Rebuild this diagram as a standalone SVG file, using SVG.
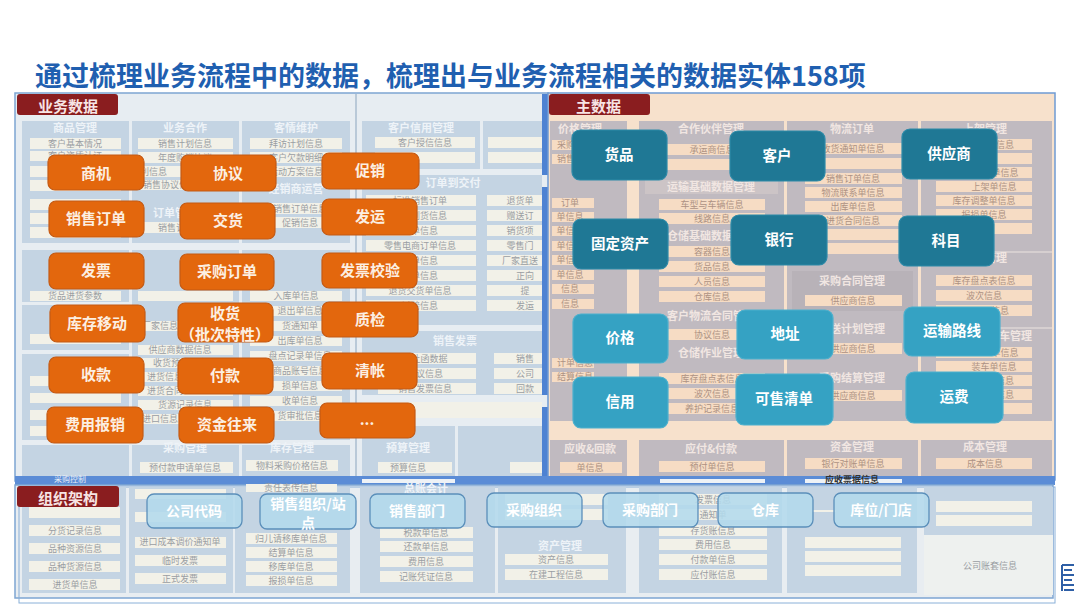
<svg xmlns="http://www.w3.org/2000/svg" width="1080" height="607" viewBox="0 0 1080 607">
<style>
.cjk{font-family:"Noto Sans CJK SC","Noto Sans",sans-serif}
.lp{fill:#c4d4e3}
.lr{fill:#f2f1e8}
.lt{font-family:"Noto Sans CJK SC",sans-serif;font-size:9px;fill:#9a9ea3;text-anchor:middle}
.lh{font-family:"Noto Sans CJK SC",sans-serif;font-size:11px;fill:#eef3f8;text-anchor:middle;font-weight:bold}
.rp{fill:#c0bac0}
.rr{fill:#f6dcc4}
.rt{font-family:"Noto Sans CJK SC",sans-serif;font-size:9px;fill:#ad9283;text-anchor:middle}
.rh{font-family:"Noto Sans CJK SC",sans-serif;font-size:11px;fill:#f1e6e2;text-anchor:middle;font-weight:bold}
.org rect{fill:#e3670d;stroke:#c45a14;stroke-width:1.2}
.org text{font-family:"Noto Sans CJK SC",sans-serif;font-size:15px;font-weight:bold;fill:#fcefe2;text-anchor:middle}
.tdk rect{fill:#1f7895;stroke:#2d8aa8;stroke-width:1.2}
.tlt rect{fill:#35a2c3;stroke:#4cb0cd;stroke-width:1.2}
.tdk text,.tlt text{font-family:"Noto Sans CJK SC",sans-serif;font-size:14.5px;font-weight:bold;fill:#ffffff;text-anchor:middle}
.lb rect{fill:#b3daec;fill-opacity:0.88;stroke:#5b8fba;stroke-width:1.3}
.lb text{font-family:"Noto Sans CJK SC",sans-serif;font-size:14px;font-weight:bold;fill:#ffffff;text-anchor:middle}
.sec text{font-family:"Noto Sans CJK SC",sans-serif;font-size:15px;font-weight:bold;fill:#f7e4e4}
</style>

<!-- title -->
<text x="35" y="86" class="cjk" font-size="27" font-weight="bold" fill="#1f5fb0">通过梳理业务流程中的数据，梳理出与业务流程相关的数据实体158项</text>

<!-- ===== 业务数据 background ===== -->
<g id="bg-business">
<rect x="15" y="93" width="533" height="388" fill="#e7edf2" stroke="#7ea5d2" stroke-width="1.5"/>
<line x1="356" y1="94" x2="356" y2="480" stroke="#b9c9d8" stroke-width="2"/>
<!-- column 1 -->
<rect class="lp" x="22" y="121" width="107" height="122"/>
<text class="lh" x="75" y="132">商品管理</text>
<rect class="lr" x="30" y="138" width="91" height="11"/><text class="lt" x="75" y="147">客户基本情况</text>
<rect class="lr" x="30" y="151" width="91" height="10"/><text class="lt" x="75" y="159" font-size="8">客户资质认证</text>
<rect class="lr" x="30" y="166" width="91" height="11"/>
<rect class="lr" x="30" y="180" width="91" height="11"/>
<rect class="lr" x="30" y="199" width="91" height="11"/>
<rect class="lr" x="30" y="213" width="91" height="11"/>
<rect class="lr" x="30" y="227" width="91" height="11"/>
<rect class="lp" x="22" y="250" width="107" height="52"/>
<rect class="lr" x="30" y="291" width="91" height="10"/><text class="lt" x="75" y="299">货品进货参数</text>
<rect class="lp" x="22" y="305" width="107" height="45"/>
<rect class="lr" x="30" y="334" width="91" height="10"/>
<rect class="lp" x="22" y="354" width="107" height="86"/>
<rect class="lr" x="30" y="376" width="91" height="10"/>
<rect class="lr" x="30" y="393" width="91" height="10"/>
<rect class="lr" x="30" y="410" width="91" height="10"/>
<rect class="lr" x="30" y="426" width="91" height="10"/>
<rect class="lp" x="22" y="445" width="107" height="36"/>
<!-- column 2 -->
<rect class="lp" x="132" y="121" width="107" height="122"/>
<text class="lh" x="185" y="132">业务合作</text>
<rect class="lr" x="138" y="138" width="95" height="11"/><text class="lt" x="185" y="147">销售计划信息</text>
<rect class="lr" x="138" y="152" width="95" height="11"/><text class="lt" x="185" y="161">年度购销协议</text>
<rect class="lr" x="138" y="166" width="95" height="11"/><text class="lt" x="140" y="175" font-size="8" text-anchor="start">销售让利信息</text>
<rect class="lr" x="138" y="180" width="95" height="10"/><text class="lt" x="170" y="188" font-size="7">销售协议信息</text>
<text class="lh" x="175" y="217">订单管理</text>
<rect class="lr" x="138" y="222" width="95" height="11"/><text class="lt" x="185" y="231">销售订单信息</text>
<rect class="lp" x="132" y="250" width="107" height="190"/>
<rect class="lr" x="138" y="291" width="95" height="10"/>
<rect class="lr" x="138" y="321" width="95" height="10"/><text class="lt" x="160" y="329">厂家信息</text>
<rect class="lr" x="138" y="345" width="95" height="10"/><text class="lt" x="180" y="353" font-size="8">供应商数据信息</text>
<rect class="lr" x="138" y="358" width="95" height="10"/><text class="lt" x="180" y="366">收货预约信息</text>
<rect class="lr" x="138" y="372" width="95" height="10"/><text class="lt" x="165" y="380">进货信息</text>
<rect class="lr" x="138" y="386" width="95" height="10"/><text class="lt" x="165" y="394">进货合同</text>
<rect class="lr" x="138" y="400" width="95" height="10"/><text class="lt" x="185" y="408">货源记录信息</text>
<rect class="lr" x="138" y="414" width="95" height="10"/><text class="lt" x="160" y="422">进口信息</text>
<rect class="lp" x="132" y="445" width="107" height="36"/>
<text class="lh" x="185" y="452">采购管理</text>
<rect class="lr" x="140" y="462" width="93" height="11"/><text class="lt" x="185" y="471">预付款申请单信息</text>
<!-- column 3 -->
<rect class="lp" x="242" y="121" width="108" height="122"/>
<text class="lh" x="296" y="132">客情维护</text>
<rect class="lr" x="250" y="138" width="92" height="11"/><text class="lt" x="296" y="147">拜访计划信息</text>
<rect class="lr" x="250" y="152" width="92" height="11"/><text class="lt" x="296" y="161">客户欠款明细</text>
<rect class="lr" x="250" y="166" width="92" height="11"/><text class="lt" x="296" y="175">活动方案信息</text>
<text class="lh" x="296" y="193">经销商运营</text>
<rect class="lr" x="250" y="203" width="92" height="11"/><text class="lt" x="300" y="212">销售订单信息</text>
<rect class="lr" x="250" y="217" width="92" height="11"/><text class="lt" x="300" y="226">促销信息</text>
<rect class="lp" x="242" y="250" width="108" height="190"/>
<rect class="lr" x="250" y="291" width="92" height="10"/><text class="lt" x="296" y="299">入库单信息</text>
<rect class="lr" x="250" y="306" width="92" height="10"/><text class="lt" x="300" y="314">退出单信息</text>
<rect class="lr" x="250" y="321" width="92" height="10"/><text class="lt" x="300" y="329">货通知单</text>
<rect class="lr" x="250" y="336" width="92" height="10"/><text class="lt" x="300" y="344">出库单信息</text>
<rect class="lr" x="250" y="351" width="92" height="10"/><text class="lt" x="300" y="359">盘点记录单信息</text>
<rect class="lr" x="250" y="366" width="92" height="10"/><text class="lt" x="300" y="374">商品账号信息</text>
<rect class="lr" x="250" y="381" width="92" height="10"/><text class="lt" x="300" y="389">损单信息</text>
<rect class="lr" x="250" y="396" width="92" height="10"/><text class="lt" x="300" y="404">收单信息</text>
<rect class="lr" x="250" y="411" width="92" height="10"/><text class="lt" x="300" y="419">货审批信息</text>
<rect class="lp" x="242" y="445" width="108" height="36"/>
<text class="lh" x="292" y="452">库存管理</text>
<rect class="lr" x="246" y="460" width="92" height="11"/><text class="lt" x="292" y="469">物料采购价格信息</text>
<!-- area B -->
<rect class="lp" x="362" y="121" width="118" height="48"/>
<text class="lh" x="421" y="132">客户信用管理</text>
<rect class="lr" x="375" y="137" width="100" height="11"/><text class="lt" x="425" y="146">客户授信信息</text>
<rect class="lr" x="375" y="152" width="100" height="11"/>
<rect class="lp" x="483" y="121" width="60" height="48"/>
<rect class="lr" x="488" y="137" width="55" height="11"/>
<rect class="lr" x="488" y="152" width="55" height="11"/>
<rect class="lp" x="362" y="175" width="181" height="150"/>
<text class="lh" x="453" y="187">订单到交付</text>
<rect class="lr" x="366" y="195" width="110" height="11"/><text class="lt" x="420" y="204">标准销售订单</text>
<rect class="lr" x="366" y="210" width="110" height="11"/><text class="lt" x="420" y="219">采购到货信息</text>
<rect class="lr" x="366" y="225" width="110" height="11"/><text class="lt" x="420" y="234">订单信息</text>
<rect class="lr" x="366" y="240" width="110" height="11"/><text class="lt" x="420" y="249">零售电商订单信息</text>
<rect class="lr" x="366" y="255" width="110" height="11"/><text class="lt" x="420" y="264">订单信息</text>
<rect class="lr" x="366" y="270" width="110" height="11"/><text class="lt" x="420" y="279">订单信息</text>
<rect class="lr" x="366" y="285" width="110" height="11"/><text class="lt" x="420" y="294">退货交货单信息</text>
<rect class="lr" x="366" y="300" width="110" height="11"/><text class="lt" x="420" y="309">过磅信息</text>
<rect class="lr" x="487" y="195" width="56" height="11"/><text class="lt" x="520" y="204">退货单</text>
<rect class="lr" x="487" y="210" width="56" height="11"/><text class="lt" x="520" y="219">赠送订</text>
<rect class="lr" x="487" y="225" width="56" height="11"/><text class="lt" x="520" y="234">销货项</text>
<rect class="lr" x="487" y="240" width="56" height="11"/><text class="lt" x="520" y="249">零售门</text>
<rect class="lr" x="487" y="255" width="56" height="11"/><text class="lt" x="520" y="264">厂家直送</text>
<rect class="lr" x="487" y="270" width="56" height="11"/><text class="lt" x="525" y="279">正向</text>
<rect class="lr" x="487" y="285" width="56" height="11"/><text class="lt" x="525" y="294">提</text>
<rect class="lr" x="487" y="300" width="56" height="11"/><text class="lt" x="525" y="309">发运</text>
<rect class="lp" x="362" y="331" width="181" height="64"/>
<text class="lh" x="455" y="345">销售发票</text>
<rect class="lr" x="378" y="353" width="98" height="11"/><text class="lt" x="425" y="362">折让函数据</text>
<rect class="lr" x="378" y="368" width="98" height="11"/><text class="lt" x="425" y="377">协议信息</text>
<rect class="lr" x="378" y="383" width="98" height="11"/><text class="lt" x="425" y="392">销售发票信息</text>
<rect class="lr" x="494" y="353" width="49" height="11"/><text class="lt" x="525" y="362">销售</text>
<rect class="lr" x="494" y="368" width="49" height="11"/><text class="lt" x="525" y="377">公司</text>
<rect class="lr" x="494" y="383" width="49" height="11"/><text class="lt" x="525" y="392">回款</text>
<rect class="lr" x="362" y="402" width="181" height="16"/>
<rect class="lp" x="362" y="426" width="93" height="55"/>
<text class="lh" x="408" y="452">预算管理</text>
<rect class="lr" x="378" y="462" width="74" height="11"/><text class="lt" x="408" y="471">预算信息</text>
<rect class="lp" x="458" y="426" width="85" height="55"/>
<rect class="lr" x="510" y="462" width="33" height="11"/>
<!-- blue strip -->
<rect x="542" y="94" width="6" height="386" fill="#4e82d2"/>
<rect x="542" y="175" width="6" height="12" fill="#e7edf2"/>
<rect x="542" y="395" width="6" height="12" fill="#e7edf2"/>
</g>

<!-- ===== 主数据 background ===== -->
<g id="bg-master">
<rect x="548" y="93" width="507" height="387" fill="#f7e1cc" stroke="#6f9bd3" stroke-width="1.5"/>
<!-- P1 -->
<rect class="rp" x="550" y="121" width="77" height="300"/>
<text class="rh" x="580" y="133">价格管理</text>
<rect class="rr" x="552" y="140" width="42" height="10"/><text class="rt" x="575" y="148">采购价格</text>
<rect class="rr" x="552" y="154" width="42" height="10"/><text class="rt" x="575" y="162">销售价格</text>
<rect class="rr" x="552" y="198" width="42" height="10"/><text class="rt" x="570" y="206">订单</text>
<rect class="rr" x="552" y="212" width="42" height="10"/><text class="rt" x="570" y="220">单信息</text>
<rect class="rr" x="552" y="226" width="42" height="10"/><text class="rt" x="570" y="234">单信息</text>
<rect class="rr" x="552" y="241" width="42" height="10"/><text class="rt" x="570" y="249">单信息</text>
<rect class="rr" x="552" y="255" width="42" height="10"/><text class="rt" x="570" y="263">单信息</text>
<rect class="rr" x="552" y="270" width="42" height="10"/><text class="rt" x="570" y="278">单信息</text>
<rect class="rr" x="552" y="284" width="42" height="10"/><text class="rt" x="570" y="292">信息</text>
<rect class="rr" x="552" y="299" width="42" height="10"/><text class="rt" x="570" y="307">信息</text>
<rect class="rr" x="552" y="358" width="42" height="10"/><text class="rt" x="575" y="366">计单信息</text>
<rect class="rr" x="552" y="372" width="42" height="10"/><text class="rt" x="575" y="380">结算信息</text>
<!-- P2 -->
<rect class="rp" x="639" y="121" width="145" height="300"/>
<text class="rh" x="711" y="133">合作伙伴管理</text>
<rect class="rr" x="659" y="144" width="106" height="11"/><text class="rt" x="712" y="153">承运商信息</text>
<rect class="rr" x="659" y="159" width="106" height="11"/>
<rect x="645" y="180" width="133" height="14" fill="#ccc4c6"/>
<text class="rh" x="711" y="191">运输基础数据管理</text>
<rect class="rr" x="659" y="199" width="106" height="11"/><text class="rt" x="712" y="208">车型与车辆信息</text>
<rect class="rr" x="659" y="213" width="106" height="11"/><text class="rt" x="712" y="222">线路信息</text>
<text class="rh" x="711" y="240">仓储基础数据管理</text>
<rect class="rr" x="659" y="246" width="106" height="11"/><text class="rt" x="712" y="255">容器信息</text>
<rect class="rr" x="659" y="261" width="106" height="11"/><text class="rt" x="712" y="270">货品信息</text>
<rect class="rr" x="659" y="276" width="106" height="11"/><text class="rt" x="712" y="285">人员信息</text>
<rect class="rr" x="659" y="291" width="106" height="11"/><text class="rt" x="712" y="300">仓库信息</text>
<text class="rh" x="711" y="320">客户物流合同管理</text>
<rect class="rr" x="659" y="329" width="106" height="11"/><text class="rt" x="712" y="338">协议信息</text>
<text class="rh" x="711" y="357">仓储作业管理</text>
<rect class="rr" x="659" y="373" width="106" height="11"/><text class="rt" x="712" y="382">库存盘点表信息</text>
<rect class="rr" x="659" y="388" width="106" height="11"/><text class="rt" x="712" y="397">波次信息</text>
<rect class="rr" x="659" y="403" width="106" height="11"/><text class="rt" x="712" y="412">养护记录信息</text>
<!-- P3 -->
<rect class="rp" x="787" y="121" width="131" height="300"/>
<text class="rh" x="852" y="133">物流订单</text>
<rect class="rr" x="805" y="143" width="97" height="11"/><text class="rt" x="853" y="152">收货通知单信息</text>
<rect class="rr" x="805" y="158" width="97" height="11"/>
<rect class="rr" x="805" y="173" width="97" height="11"/><text class="rt" x="853" y="182">销售订单信息</text>
<rect class="rr" x="805" y="187" width="97" height="11"/><text class="rt" x="853" y="196">物流联系单信息</text>
<rect class="rr" x="805" y="201" width="97" height="11"/><text class="rt" x="853" y="210">出库单信息</text>
<rect class="rr" x="805" y="215" width="97" height="11"/><text class="rt" x="853" y="224">进货合同信息</text>
<rect class="rr" x="805" y="229" width="97" height="11"/>
<rect class="rr" x="805" y="243" width="97" height="11"/>
<rect x="792" y="271" width="121" height="40" fill="#b8b2b8"/>
<text class="rh" x="852" y="285">采购合同管理</text>
<rect class="rr" x="805" y="295" width="97" height="11"/><text class="rt" x="853" y="304">供应商信息</text>
<text class="rh" x="852" y="333">配送计划管理</text>
<rect class="rr" x="805" y="343" width="97" height="11"/><text class="rt" x="853" y="352">供应商信息</text>
<text class="rh" x="852" y="382">采购结算管理</text>
<rect class="rr" x="805" y="390" width="97" height="11"/><text class="rt" x="853" y="399">供应商信息</text>
<!-- P4 -->
<rect class="rp" x="921" y="121" width="131" height="300"/>
<text class="rh" x="985" y="133">上架管理</text>
<rect class="rr" x="936" y="139" width="96" height="11"/><text class="rt" x="1005" y="148">信息</text>
<rect class="rr" x="936" y="153" width="96" height="11"/>
<rect class="rr" x="936" y="167" width="96" height="11"/><text class="rt" x="1005" y="176">单信息</text>
<rect class="rr" x="936" y="181" width="96" height="11"/><text class="rt" x="994" y="190">上架单信息</text>
<rect class="rr" x="936" y="195" width="96" height="11"/><text class="rt" x="984" y="204">库存调整单信息</text>
<rect class="rr" x="936" y="209" width="96" height="11"/><text class="rt" x="984" y="218">报损单信息</text>
<rect class="rr" x="936" y="223" width="96" height="11"/>
<line x1="921" y1="252" x2="1052" y2="252" stroke="#d6cfd0" stroke-width="2"/>
<text class="rh" x="985" y="262">盘点管理</text>
<rect class="rr" x="936" y="275" width="96" height="11"/><text class="rt" x="984" y="284">库存盘点表信息</text>
<rect class="rr" x="936" y="290" width="96" height="11"/><text class="rt" x="984" y="299">波次信息</text>
<rect class="rr" x="936" y="305" width="96" height="11"/><text class="rt" x="1000" y="314">信息</text>
<line x1="921" y1="328" x2="1052" y2="328" stroke="#d6cfd0" stroke-width="2"/>
<text class="rh" x="1010" y="340">装车管理</text>
<rect class="rr" x="936" y="347" width="96" height="11"/><text class="rt" x="1005" y="356">单信息</text>
<rect class="rr" x="936" y="361" width="96" height="11"/><text class="rt" x="994" y="370">装车单信息</text>
<rect class="rr" x="936" y="375" width="96" height="11"/><text class="rt" x="1005" y="384">信息</text>
<rect class="rr" x="936" y="389" width="96" height="11"/><text class="rt" x="1005" y="398">信息</text>
<rect class="rr" x="936" y="403" width="96" height="11"/>
<!-- bottom row of master -->
<rect class="rp" x="550" y="440" width="77" height="40"/>
<text class="rh" x="590" y="453">应收&amp;回款</text>
<rect class="rr" x="560" y="462" width="62" height="11"/><text class="rt" x="590" y="471">单信息</text>
<rect class="rp" x="639" y="440" width="145" height="40"/>
<text class="rh" x="711" y="453">应付&amp;付款</text>
<rect class="rr" x="659" y="461" width="106" height="11"/><text class="rt" x="712" y="470">预付单信息</text>
<rect class="rp" x="787" y="440" width="131" height="40"/>
<text class="rh" x="852" y="451">资金管理</text>
<rect class="rr" x="805" y="458" width="97" height="11"/><text class="rt" x="853" y="467">银行对账单信息</text>
<rect class="rp" x="921" y="440" width="131" height="36"/>
<text class="rh" x="985" y="451">成本管理</text>
<rect class="rr" x="936" y="458" width="96" height="11"/><text class="rt" x="985" y="467">成本信息</text>
</g>

<!-- ===== 组织架构 background ===== -->
<g id="bg-org">
<rect x="15" y="476" width="1040" height="9" fill="#5b8cd6"/>
<rect x="362" y="479" width="93" height="4" fill="#eef2f6"/>
<rect x="660" y="479" width="105" height="4" fill="#eef2f6"/>
<rect x="805" y="479" width="97" height="4" fill="#eef2f6"/>
<text x="70" y="482" class="cjk" font-size="8" fill="#e8eef6" text-anchor="middle">采购控制</text>
<text x="852" y="483" class="cjk" font-size="9" font-weight="bold" fill="#333" text-anchor="middle">应收票据信息</text>
<rect x="15" y="485" width="1038" height="113" fill="#e8edf1" stroke="#7ea5d2" stroke-width="1.5"/>
<rect x="19" y="487" width="1036" height="116" fill="none" stroke="#8ab0d8" stroke-width="1"/>
<!-- c1 -->
<rect class="lp" x="22" y="487" width="104" height="106"/>
<rect class="lr" x="29" y="507" width="91" height="11"/>
<rect class="lr" x="29" y="525" width="91" height="11"/><text class="lt" x="75" y="534">分货记录信息</text>
<rect class="lr" x="29" y="543" width="91" height="11"/><text class="lt" x="75" y="552">品种资源信息</text>
<rect class="lr" x="29" y="561" width="91" height="11"/><text class="lt" x="75" y="570">品种货源信息</text>
<rect class="lr" x="29" y="579" width="91" height="11"/><text class="lt" x="75" y="588">进货单信息</text>
<!-- c2 -->
<rect class="lp" x="129" y="487" width="104" height="106"/>
<rect class="lr" x="135" y="489" width="91" height="10"/>
<rect class="lr" x="135" y="512" width="91" height="10"/>
<rect class="lr" x="135" y="537" width="91" height="11"/><text class="lt" x="180" y="545" font-size="7">进口成本调价通知单</text>
<rect class="lr" x="135" y="555" width="91" height="11"/><text class="lt" x="180" y="564">临时发票</text>
<rect class="lr" x="135" y="573" width="91" height="11"/><text class="lt" x="180" y="582">正式发票</text>
<!-- c3 -->
<rect class="lp" x="235" y="487" width="115" height="106"/>
<rect class="lr" x="246" y="484" width="91" height="8"/><text class="lt" x="291" y="490.5" font-size="7">责任表传信息</text>
<rect class="lr" x="246" y="533" width="91" height="11"/><text class="lt" x="291" y="542">归儿请移库单信息</text>
<rect class="lr" x="246" y="547" width="91" height="11"/><text class="lt" x="291" y="556">结算单信息</text>
<rect class="lr" x="246" y="561" width="91" height="11"/><text class="lt" x="291" y="570">移库单信息</text>
<rect class="lr" x="246" y="575" width="91" height="11"/><text class="lt" x="291" y="584">报损单信息</text>
<!-- c4 -->
<rect class="lp" x="360" y="487" width="135" height="106"/>
<text class="lh" x="426" y="493" font-size="9">总账会计</text>
<rect class="lr" x="380" y="527" width="93" height="11"/><text class="lt" x="426" y="536">税款单信息</text>
<rect class="lr" x="380" y="541" width="93" height="11"/><text class="lt" x="426" y="550">还款单信息</text>
<rect class="lr" x="380" y="556" width="93" height="11"/><text class="lt" x="426" y="565">费用信息</text>
<rect class="lr" x="380" y="571" width="93" height="11"/><text class="lt" x="426" y="580">记账凭证信息</text>
<!-- c5 -->
<rect class="lp" x="498" y="487" width="128" height="106"/>
<rect class="lr" x="505" y="494" width="103" height="11"/>
<rect class="lr" x="505" y="509" width="103" height="11"/>
<text class="lh" x="560" y="550">资产管理</text>
<rect class="lr" x="505" y="554" width="103" height="11"/><text class="lt" x="556" y="563">资产信息</text>
<rect class="lr" x="505" y="569" width="103" height="11"/><text class="lt" x="556" y="578">在建工程信息</text>
<!-- c6 -->
<rect class="lp" x="639" y="487" width="143" height="106"/>
<rect class="lr" x="659" y="494" width="108" height="11"/><text class="lt" x="713" y="503">发票信息</text>
<rect class="lr" x="659" y="509" width="108" height="11"/><text class="lt" x="713" y="518">通知单</text>
<rect class="lr" x="659" y="525" width="108" height="11"/><text class="lt" x="713" y="534">存货账信息</text>
<rect class="lr" x="659" y="539" width="108" height="11"/><text class="lt" x="713" y="548">费用信息</text>
<rect class="lr" x="659" y="554" width="108" height="11"/><text class="lt" x="713" y="563">付款单信息</text>
<rect class="lr" x="659" y="569" width="108" height="11"/><text class="lt" x="713" y="578">应付账信息</text>
<!-- c7 -->
<rect class="lp" x="787" y="487" width="130" height="106"/>
<rect class="lr" x="805" y="537" width="96" height="11"/>
<rect class="lr" x="805" y="551" width="96" height="11"/>
<rect class="lr" x="805" y="565" width="96" height="11"/>
<line x1="812" y1="511" x2="836" y2="511" stroke="#f2f1e8" stroke-width="2"/>
<!-- c8 -->
<rect class="lp" x="924" y="487" width="129" height="48"/>
<rect x="924" y="535" width="129" height="60" fill="#eef1ef"/>
<rect class="lr" x="936" y="501" width="96" height="11"/>
<rect class="lr" x="936" y="515" width="96" height="11"/>
<text class="lt" x="990" y="569">公司账套信息</text>
</g>

<!-- section labels -->
<g id="label-business" class="sec">
<rect x="17" y="94" width="101" height="21" rx="3" fill="#8a1d1f"/>
<text x="38" y="111.5">业务数据</text>
</g>
<g id="label-master" class="sec">
<rect x="549" y="94" width="101" height="21" rx="3" fill="#8a1d1f"/>
<text x="576" y="111.5">主数据</text>
</g>
<g id="label-org" class="sec">
<rect x="17" y="486" width="102" height="21" rx="3" fill="#8a1d1f"/>
<text x="38" y="503.5">组织架构</text>
</g>

<!-- orange nodes -->
<g id="n-shangji" class="org"><rect x="48" y="155" width="96" height="35" rx="7"/><text x="96" y="179">商机</text></g>
<g id="n-xieyi" class="org"><rect x="181" y="155" width="95" height="36" rx="7"/><text x="228" y="179">协议</text></g>
<g id="n-cuxiao" class="org"><rect x="322" y="153" width="97" height="36" rx="7"/><text x="370" y="176">促销</text></g>
<g id="n-xsdd" class="org"><rect x="49" y="201" width="95" height="36" rx="7"/><text x="96" y="224">销售订单</text></g>
<g id="n-jiaohuo" class="org"><rect x="180" y="203" width="95" height="36" rx="7"/><text x="228" y="226">交货</text></g>
<g id="n-fayun" class="org"><rect x="322" y="199" width="95" height="36" rx="7"/><text x="370" y="222">发运</text></g>
<g id="n-fapiao" class="org"><rect x="49" y="253" width="95" height="36" rx="7"/><text x="96" y="276">发票</text></g>
<g id="n-cgdd" class="org"><rect x="180" y="254" width="94" height="36" rx="7"/><text x="227" y="277">采购订单</text></g>
<g id="n-fpjy" class="org"><rect x="322" y="253" width="95" height="35" rx="7"/><text x="370" y="276">发票校验</text></g>
<g id="n-kcyd" class="org"><rect x="50" y="305" width="95" height="37" rx="7"/><text x="97" y="329">库存移动</text></g>
<g id="n-shouhuo" class="org"><rect x="178" y="303" width="95" height="39" rx="7"/><text x="225" y="319" font-size="14"><tspan x="225" y="319">收货</tspan><tspan x="225" y="339.5">（批次特性）</tspan></text></g>
<g id="n-zhijian" class="org"><rect x="322" y="302" width="96" height="35" rx="7"/><text x="370" y="325">质检</text></g>
<g id="n-shoukuan" class="org"><rect x="49" y="357" width="95" height="36" rx="7"/><text x="96" y="380">收款</text></g>
<g id="n-fukuan" class="org"><rect x="178" y="358" width="95" height="36" rx="7"/><text x="225" y="381">付款</text></g>
<g id="n-qingzhang" class="org"><rect x="322" y="353" width="95" height="36" rx="7"/><text x="370" y="376">清帐</text></g>
<g id="n-fybx" class="org"><rect x="47" y="407" width="96" height="36" rx="7"/><text x="95" y="430">费用报销</text></g>
<g id="n-zjwl" class="org"><rect x="179" y="407" width="95" height="36" rx="7"/><text x="227" y="430">资金往来</text></g>
<g id="n-more" class="org"><rect x="320" y="403" width="95" height="35" rx="7"/><text x="367" y="425">...</text></g>

<!-- teal nodes -->
<g id="n-huopin" class="tdk"><rect x="572" y="130" width="95" height="50" rx="8"/><text x="619" y="160">货品</text></g>
<g id="n-kehu" class="tdk"><rect x="730" y="131" width="95" height="50" rx="8"/><text x="777" y="161">客户</text></g>
<g id="n-gys" class="tdk"><rect x="902" y="129" width="95" height="50" rx="8"/><text x="949" y="159">供应商</text></g>
<g id="n-gdzc" class="tdk"><rect x="573" y="219" width="95" height="50" rx="8"/><text x="620" y="249">固定资产</text></g>
<g id="n-yinhang" class="tdk"><rect x="731" y="215" width="96" height="50" rx="8"/><text x="779" y="245">银行</text></g>
<g id="n-kemu" class="tdk"><rect x="899" y="216" width="95" height="50" rx="8"/><text x="946" y="246">科目</text></g>
<g id="n-jiage" class="tlt"><rect x="573" y="314" width="95" height="49" rx="8"/><text x="620" y="343">价格</text></g>
<g id="n-dizhi" class="tlt"><rect x="737" y="310" width="96" height="49" rx="8"/><text x="785" y="339">地址</text></g>
<g id="n-ysxl" class="tlt"><rect x="904" y="307" width="96" height="49" rx="8"/><text x="952" y="336">运输路线</text></g>
<g id="n-xinyong" class="tlt"><rect x="573" y="377" width="95" height="51" rx="8"/><text x="620" y="407">信用</text></g>
<g id="n-ksqd" class="tlt"><rect x="736" y="374" width="97" height="51" rx="8"/><text x="784" y="404">可售清单</text></g>
<g id="n-yunfei" class="tlt"><rect x="906" y="372" width="97" height="51" rx="8"/><text x="954" y="402">运费</text></g>

<!-- light blue org nodes -->
<g id="n-gsdm" class="lb"><rect x="147" y="494" width="95" height="34" rx="7"/><text x="194" y="516">公司代码</text></g>
<g id="n-xszz" class="lb"><rect x="260" y="494" width="96" height="35" rx="7"/><text x="308" y="508.5" font-size="13"><tspan x="308" y="508.5">销售组织/站</tspan><tspan x="308" y="527.5">点</tspan></text></g>
<g id="n-xsbm" class="lb"><rect x="370" y="494" width="95" height="34" rx="7"/><text x="417" y="516">销售部门</text></g>
<g id="n-cgzz" class="lb"><rect x="487" y="493" width="95" height="34" rx="7"/><text x="534" y="515">采购组织</text></g>
<g id="n-cgbm" class="lb"><rect x="603" y="493" width="95" height="34" rx="7"/><text x="650" y="515">采购部门</text></g>
<g id="n-cangku" class="lb"><rect x="718" y="493" width="95" height="34" rx="7"/><text x="765" y="515">仓库</text></g>
<g id="n-kwmd" class="lb"><rect x="834" y="493" width="95" height="34" rx="7"/><text x="881" y="515">库位/门店</text></g>

<g id="connectors"></g>

<!-- corner logo lines -->
<g id="logo" stroke="#2e5fa6" stroke-width="2">
<line x1="1062" y1="565" x2="1074" y2="565"/>
<line x1="1064" y1="570" x2="1072" y2="570"/>
<line x1="1062" y1="575" x2="1074" y2="575"/>
<line x1="1064" y1="580" x2="1072" y2="580"/>
<line x1="1062" y1="585" x2="1074" y2="585"/>
<line x1="1064" y1="590" x2="1074" y2="590"/>
<line x1="1062" y1="565" x2="1062" y2="591"/>
</g>
</svg>
